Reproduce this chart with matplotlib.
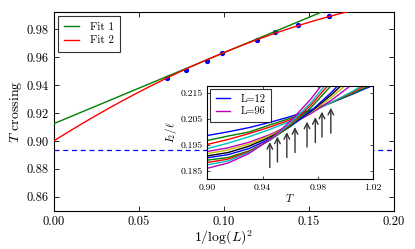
import numpy as np
import matplotlib
matplotlib.use('Agg')
import matplotlib.pyplot as plt

plt.rcParams['font.family'] = 'serif'
plt.rcParams['font.serif'] = ['cmr10']
plt.rcParams['mathtext.fontset'] = 'cm'
plt.rcParams['axes.formatter.use_mathtext'] = True

# crossing temperatures vs 1/log(L)^2
x_pts = [0.0667, 0.0779, 0.0901, 0.0990, 0.1197, 0.1301, 0.1436, 0.1620]
t_cross = [0.9452, 0.9507, 0.9575, 0.9634, 0.9721, 0.9781, 0.9829, 0.9893]
fit1 = [0.5087, 0.9124]              # linear
fit2 = [-1.336, 0.7677, 0.900]       # quadratic
t_inf = 0.8934

# inset: I2/l vs T for each L
L_vals = [12, 14, 16, 18, 24, 28, 32, 36, 48, 56, 72, 96]
T_grid = [0.90, 0.915, 0.93, 0.945, 0.96, 0.975, 0.99, 1.005, 1.02]
I2 = [
    [0.1986, 0.2000, 0.2016, 0.2036, 0.2058, 0.2084, 0.2112, 0.2144, 0.2178],
    [0.1967, 0.1984, 0.1999, 0.2026, 0.2052, 0.2080, 0.2112, 0.2146, 0.2183],
    [0.1952, 0.1971, 0.1993, 0.2018, 0.2046, 0.2078, 0.2113, 0.2151, 0.2192],
    [0.1936, 0.1957, 0.1981, 0.2009, 0.2040, 0.2075, 0.2113, 0.2155, 0.2200],
    [0.1925, 0.1939, 0.1960, 0.1989, 0.2026, 0.2070, 0.2122, 0.2182, 0.2249],
    [0.1917, 0.1931, 0.1953, 0.1985, 0.2025, 0.2075, 0.2133, 0.2201, 0.2277],
    [0.1908, 0.1921, 0.1945, 0.1979, 0.2023, 0.2078, 0.2143, 0.2218, 0.2304],
    [0.1901, 0.1913, 0.1936, 0.1972, 0.2020, 0.2080, 0.2152, 0.2237, 0.2333],
    [0.1892, 0.1902, 0.1927, 0.1967, 0.2022, 0.2093, 0.2179, 0.2280, 0.2396],
    [0.1883, 0.1896, 0.1924, 0.1968, 0.2028, 0.2103, 0.2194, 0.2301, 0.2423],
    [0.1874, 0.1889, 0.1921, 0.1968, 0.2032, 0.2112, 0.2209, 0.2321, 0.2450],
    [0.1861, 0.1881, 0.1917, 0.1970, 0.2040, 0.2126, 0.2229, 0.2349, 0.2485],
]
arrow_tip = [0.1961, 0.1982, 0.1999, 0.2018, 0.2039, 0.2056, 0.2077, 0.2092]
arrow_len = 0.0097
cycle = ['b', 'g', 'r', 'c', 'm', 'y', 'k']

fig = plt.figure(figsize=(4.15, 2.49), dpi=100)
ax = fig.add_axes([0.1294, 0.1538, 0.82, 0.798])

ax.plot(x_pts, t_cross, 'o', color='b', ms=2.8, mec='b', zorder=2)
xs = np.linspace(0, 0.2, 200)
ax.plot(xs, np.polyval(fit1, xs), color='g', lw=1.0, label='Fit 1', zorder=3)
ax.plot(xs, np.polyval(fit2, xs), color='r', lw=1.0, label='Fit 2', zorder=3)
ax.axhline(t_inf, color='b', ls='--', lw=0.9, dashes=(4, 3))

ax.set_xlim(0, 0.2)
ax.set_ylim(0.85, 0.9925)
ax.set_xticks([0.0, 0.05, 0.10, 0.15, 0.20])
ax.set_xticklabels(['0.00', '0.05', '0.10', '0.15', '0.20'])
ax.set_yticks([0.86, 0.88, 0.90, 0.92, 0.94, 0.96, 0.98])
ax.set_yticklabels(['0.86', '0.88', '0.90', '0.92', '0.94', '0.96', '0.98'])
ax.tick_params(direction='in', top=True, right=True, labelsize=9, length=3.5, width=0.6)
ax.set_xlabel(r'$1/\log(L)^2$', fontsize=10, labelpad=1)
ax.set_ylabel(r'$T$ crossing', fontsize=10, labelpad=2)
leg = ax.legend(loc='upper left', fontsize=8, frameon=True, fancybox=False,
                edgecolor='k', handlelength=1.4, handletextpad=1.0,
                borderpad=0.55, labelspacing=0.35, borderaxespad=0.35)
leg.get_frame().set_linewidth(0.8)

ins = fig.add_axes([0.4995, 0.2811, 0.40, 0.3735])
for i, (L, row) in enumerate(zip(L_vals, I2)):
    lab = f'L={L}' if i in (0, len(L_vals) - 1) else None
    ins.plot(T_grid, row, color=cycle[i % 7], lw=1.0, label=lab)
for T, tip in zip(t_cross, arrow_tip):
    ins.annotate('', xy=(T, tip), xytext=(T, tip - arrow_len),
                 arrowprops=dict(arrowstyle='->', color='0.2', lw=1.0,
                                 shrinkA=0, shrinkB=0))
ins.set_xlim(0.90, 1.02)
ins.set_ylim(0.182, 0.2175)
ins.set_xticks([0.90, 0.94, 0.98, 1.02])
ins.set_xticklabels(['0.90', '0.94', '0.98', '1.02'])
ins.set_yticks([0.185, 0.195, 0.205, 0.215])
ins.set_yticklabels(['0.185', '0.195', '0.205', '0.215'])
ins.tick_params(direction='in', top=True, right=True, labelsize=7, length=2.5, width=0.5)
ins.set_xlabel(r'$T$', fontsize=8, labelpad=0)
ins.set_ylabel(r'$I_2/\ell$', fontsize=8, labelpad=1)
leg2 = ins.legend(loc='upper left', fontsize=7.5, frameon=True, fancybox=False,
                  edgecolor='k', handlelength=1.4, handletextpad=1.0,
                  borderpad=0.5, labelspacing=0.3, borderaxespad=0.3)
leg2.get_frame().set_linewidth(0.8)
ins.set_facecolor('white')

fig.savefig('out.png', dpi=100)
